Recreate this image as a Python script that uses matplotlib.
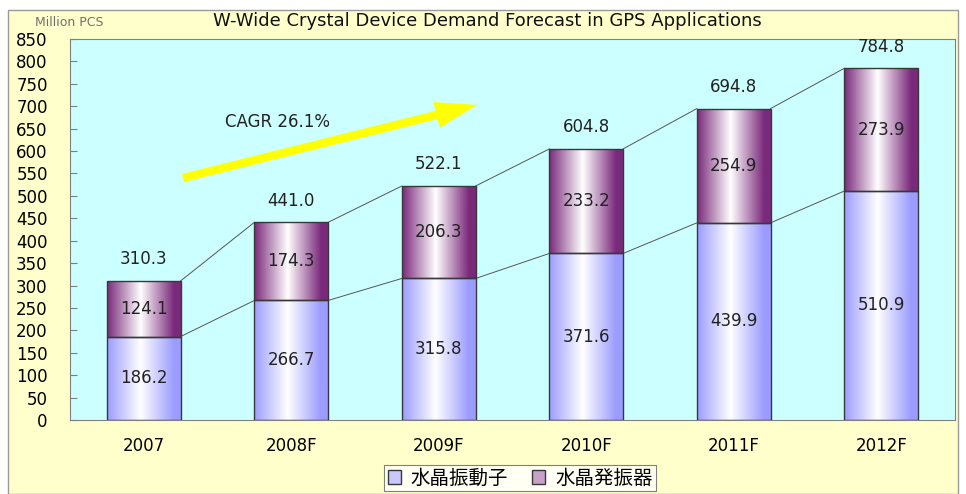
import numpy as np
import matplotlib.pyplot as plt
from matplotlib.patches import Rectangle
from matplotlib.colors import LinearSegmentedColormap

plt.rcParams['font.family'] = ['DejaVu Sans', 'Noto Sans CJK JP']

# ---- data ----
years = ['2007', '2008F', '2009F', '2010F', '2011F', '2012F']
resonators = [186.2, 266.7, 315.8, 371.6, 439.9, 510.9]    # 水晶振動子
oscillators = [124.1, 174.3, 206.3, 233.2, 254.9, 273.9]   # 水晶発振器
totals = [310.3, 441.0, 522.1, 604.8, 694.8, 784.8]
series_names = ['水晶振動子', '水晶発振器']

W, H = 966, 494
fig = plt.figure(figsize=(W / 100, H / 100), dpi=100)
fig.patch.set_facecolor('white')

# outer yellow frame
fig.patches.append(Rectangle((8 / W, 0), 950 / W, (H - 10) / H, transform=fig.transFigure,
                             facecolor='#FFFFCC', edgecolor='#9a9a9a', lw=1.0, zorder=-10))

ax = fig.add_axes([70 / W, 1 - 420 / H, 885 / W, 381 / H])
ax.set_facecolor('#CCFFFF')
for s in ax.spines.values():
    s.set_color('#808080')

x = np.arange(len(years))
bw = 0.5

cm_low = LinearSegmentedColormap.from_list('low', ['#9C9CFF', '#FFFFFF', '#9C9CFF'])
cm_up = LinearSegmentedColormap.from_list('up', ['#7A2A7A', '#FFFFFF', '#7A2A7A'])
grad = np.linspace(0, 1, 256).reshape(1, -1)
grad = np.clip(grad * 1.1, 0, 1)  # lighter spot slightly left of centre

bars_low = ax.bar(x, resonators, bw, facecolor='none', edgecolor='#383838', lw=1.0,
                  zorder=3, label=series_names[0])
bars_up = ax.bar(x, oscillators, bw, bottom=resonators, facecolor='none', edgecolor='#383838',
                 lw=1.0, zorder=3, label=series_names[1])

for bars, cm in ((bars_low, cm_low), (bars_up, cm_up)):
    for b in bars:
        x0, y0 = b.get_x(), b.get_y()
        im = ax.imshow(grad, cmap=cm, aspect='auto', zorder=2,
                       extent=(x0, x0 + b.get_width(), y0, y0 + b.get_height()))
        im.set_clip_path(b)

# connector lines between bars
for i in range(len(years) - 1):
    ax.plot([x[i] + bw / 2, x[i + 1] - bw / 2], [resonators[i], resonators[i + 1]],
            color='#555555', lw=0.7, zorder=1.5)
    ax.plot([x[i] + bw / 2, x[i + 1] - bw / 2], [totals[i], totals[i + 1]],
            color='#555555', lw=0.7, zorder=1.5)

# value labels
for i in range(len(years)):
    ax.text(x[i], resonators[i] / 2, f'{resonators[i]:.1f}', ha='center', va='center',
            fontsize=12, color='#222222', zorder=4)
    ax.text(x[i], resonators[i] + oscillators[i] / 2, f'{oscillators[i]:.1f}', ha='center',
            va='center', fontsize=12, color='#222222', zorder=4)
    ax.text(x[i], totals[i] + 28, f'{totals[i]:.1f}', ha='center', va='bottom',
            fontsize=12, color='#222222', zorder=4)

# CAGR arrow
ax.annotate('', xy=(2.26, 703), xytext=(0.266, 540), zorder=4,
            arrowprops=dict(arrowstyle='simple,head_width=0.95,head_length=1.5,tail_width=0.3',
                            mutation_scale=20, color='#FFFF00', lw=0,
                            shrinkA=0, shrinkB=0))
ax.text(0.55, 665, 'CAGR 26.1%', fontsize=12, color='#222222', ha='left', va='center', zorder=4)

ax.set_xlim(-0.5, len(years) - 0.5)
ax.set_ylim(0, 850)
ax.set_yticks(np.arange(0, 851, 50))
ax.tick_params(axis='y', direction='in', length=5, color='#808080', pad=16, labelsize=12)
ax.tick_params(axis='x', length=0, pad=12, labelsize=12)
ax.set_xticks(x)
ax.set_xticklabels(years)

fig.text(35 / W, 1 - 22 / H, 'Million PCS', fontsize=9, color='#707070', va='center')
fig.text(487 / W, 1 - 21 / H, 'W-Wide Crystal Device Demand Forecast in GPS Applications',
         fontsize=13, color='#111111', ha='center', va='center')

leg = fig.legend(handles=[bars_low, bars_up], labels=series_names, loc='center',
                 bbox_to_anchor=(520 / W, 1 - 478 / H), ncol=2, frameon=True, fancybox=False,
                 fontsize=14, handlelength=0.7, handleheight=0.7, handletextpad=0.5,
                 columnspacing=1.2, borderpad=0.2, edgecolor='#606060')
leg.get_frame().set_linewidth(0.8)
leg.get_frame().set_facecolor('white')
leg.legend_handles[0].set_facecolor('#C8C8FF')
leg.legend_handles[1].set_facecolor('#C8A0C8')

fig.savefig('out.png', dpi=100)
